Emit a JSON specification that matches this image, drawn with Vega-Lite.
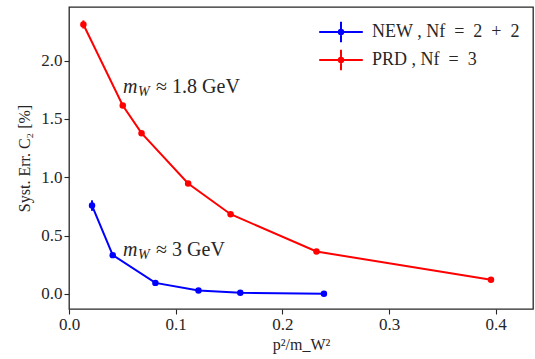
{
  "$schema": "https://vega.github.io/schema/vega-lite/v6.json",
  "autosize": {"type": "none"},
  "padding": {"left": 69, "top": 7, "right": 2, "bottom": 50},
  "width": 464,
  "height": 302,
  "background": "white",
  "config": {
    "view": {"stroke": "#262626", "strokeWidth": 1.3},
    "font": "Liberation Serif",
    "axis": {
      "domain": false,
      "grid": false,
      "ticks": true,
      "labelFlush": false,
      "tickColor": "#262626",
      "tickSize": 5,
      "tickWidth": 1.1,
      "labelFont": "Liberation Serif",
      "labelFontSize": 17,
      "labelColor": "#262626",
      "titleFont": "Liberation Serif",
      "titleFontSize": 16,
      "titleFontWeight": "normal",
      "titleColor": "#262626"
    },
    "legend": {
      "labelFont": "Liberation Serif",
      "labelFontSize": 18,
      "labelColor": "#262626"
    }
  },
  "datasets": {
    "series": [
      {"s": "PRD", "x": 0.0135, "y": 2.31, "err": 0.035},
      {"s": "PRD", "x": 0.0504, "y": 1.615, "err": 0.015},
      {"s": "PRD", "x": 0.068, "y": 1.378, "err": 0.012},
      {"s": "PRD", "x": 0.1117, "y": 0.946, "err": 0.01},
      {"s": "PRD", "x": 0.1515, "y": 0.683, "err": 0.01},
      {"s": "PRD", "x": 0.232, "y": 0.363, "err": 0.01},
      {"s": "PRD", "x": 0.3956, "y": 0.12, "err": 0.01},
      {"s": "NEW", "x": 0.0216, "y": 0.757, "err": 0.045},
      {"s": "NEW", "x": 0.041, "y": 0.332, "err": 0.015},
      {"s": "NEW", "x": 0.081, "y": 0.094, "err": 0.01},
      {"s": "NEW", "x": 0.1214, "y": 0.028, "err": 0.005},
      {"s": "NEW", "x": 0.1606, "y": 0.009, "err": 0.003},
      {"s": "NEW", "x": 0.239, "y": 0.0, "err": 0.002}
    ],
    "ann": [
      {"x": 0.0507, "y": 1.77, "rest": "≈ 1.8 GeV"},
      {"x": 0.0507, "y": 0.38, "rest": "≈ 3 GeV"}
    ]
  },
  "encoding": {
    "x": {"field": "x", "type": "quantitative", "scale": {"domain": [0, 0.435], "nice": false},
          "axis": {"values": [0, 0.1, 0.2, 0.3, 0.4], "format": ".1f", "title": "p²/m_W²", "titlePadding": 4}},
    "y": {"field": "y", "type": "quantitative", "scale": {"domain": [-0.13, 2.46], "nice": false},
          "axis": {"values": [0, 0.5, 1, 1.5, 2], "format": ".1f", "title": "Syst. Err. C₂ [%]", "titlePadding": 8}}
  },
  "layer": [
    {
      "data": {"name": "series"},
      "mark": {"type": "line", "strokeWidth": 2},
      "encoding": {
        "color": {
          "field": "s", "type": "nominal",
          "scale": {"domain": ["NEW", "PRD"], "range": ["#0000ff", "#ff0000"]},
          "legend": {
            "title": null,
            "orient": "none",
            "legendX": 249,
            "legendY": 11,
            "padding": 0,
            "labelFont": "Liberation Serif",
            "labelFontSize": 18,
            "labelColor": "#262626",
            "labelExpr": "datum.value == 'NEW' ? 'NEW , Nf\u2002=\u20022\u2002+\u20022' : 'PRD , Nf\u2002=\u20023'",
            "symbolType": "M-1,0H1M0,-0.47V0.47M0.1,0A0.1,0.1 0 1,1 -0.1,0A0.1,0.1 0 1,1 0.1,0Z",
            "symbolSize": 1900,
            "symbolStrokeWidth": 2,
            "clipHeight": 28,
            "rowPadding": 0,
            "labelOffset": 8,
            "encode": {
              "symbols": {"update": {
                "fill": {"scale": "color", "field": "value"},
                "stroke": {"scale": "color", "field": "value"},
                "fillOpacity": {"value": 1},
                "strokeOpacity": {"value": 1}
              }}
            }
          }
        }
      }
    },
    {
      "data": {"name": "series"},
      "mark": {"type": "errorbar", "ticks": false, "thickness": 2},
      "encoding": {
        "y": {"field": "y", "type": "quantitative", "title": "Syst. Err. C₂ [%]"},
        "yError": {"field": "err"},
        "color": {"field": "s", "type": "nominal", "legend": null}
      }
    },
    {
      "data": {"name": "series"},
      "mark": {"type": "point", "filled": true, "size": 42, "opacity": 1},
      "encoding": {
        "color": {"field": "s", "type": "nominal", "legend": null}
      }
    },
    {
      "data": {"name": "ann"},
      "mark": {"type": "text", "align": "left", "baseline": "middle", "font": "Liberation Serif", "fontSize": 20, "fontStyle": "italic", "color": "#262626"},
      "encoding": {
        "text": {"value": "m"}
      }
    },
    {
      "data": {"name": "ann"},
      "mark": {"type": "text", "align": "left", "baseline": "middle", "font": "Liberation Serif", "fontSize": 14, "fontStyle": "italic", "color": "#262626", "dx": 15, "dy": 5},
      "encoding": {
        "text": {"value": "W"}
      }
    },
    {
      "data": {"name": "ann"},
      "mark": {"type": "text", "align": "left", "baseline": "middle", "font": "Liberation Serif", "fontSize": 20, "color": "#262626", "dx": 33},
      "encoding": {
        "text": {"field": "rest"}
      }
    }
  ]
}
